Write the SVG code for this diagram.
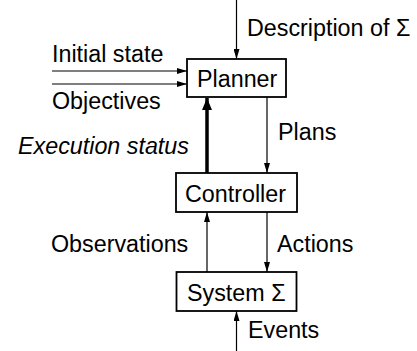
<svg xmlns="http://www.w3.org/2000/svg" width="417" height="351" viewBox="0 0 417 351">
<defs>
<marker id="ah" viewBox="0 0 10 6" refX="10" refY="3" markerWidth="10" markerHeight="6" markerUnits="userSpaceOnUse" orient="auto">
<path d="M0,0 L10,3 L0,6 Z" fill="#000"/>
</marker>
<marker id="ahb" viewBox="0 0 12 10" refX="12" refY="5" markerWidth="12" markerHeight="10" markerUnits="userSpaceOnUse" orient="auto">
<path d="M0,0 L12,5 L0,10 Z" fill="#000"/>
</marker>
</defs>
<style>
text{font-family:"Liberation Sans",Arial,sans-serif;font-size:23.3px;fill:#000}
.box{fill:#fff;stroke:#000;stroke-width:1.8}
.c{stroke:#000;stroke-width:1.2;fill:none;marker-end:url(#ah)}
.cb{stroke:#000;stroke-width:3.5;fill:none;marker-end:url(#ahb)}
</style>
<rect width="417" height="351" fill="#fff"/>
<g id="connectors">
<line class="c" x1="236.5" y1="0" x2="236.5" y2="59"/>
<line class="c" x1="52" y1="71" x2="187" y2="71"/>
<line class="c" x1="52" y1="84" x2="187" y2="84"/>
<line class="cb" x1="207" y1="173" x2="207" y2="98"/>
<line class="c" x1="267" y1="97" x2="267" y2="173"/>
<line class="c" x1="207" y1="272" x2="207" y2="212"/>
<line class="c" x1="267" y1="212" x2="267" y2="272"/>
<line class="c" x1="236.5" y1="351" x2="236.5" y2="311"/>
</g>
<g id="labels">
<text x="247" y="36">Description of Σ</text>
<text x="52" y="62">Initial state</text>
<text x="52" y="109">Objectives</text>
<text x="18" y="154" font-style="italic">Execution status</text>
<text x="278" y="140">Plans</text>
<text x="51" y="252">Observations</text>
<text x="277" y="252">Actions</text>
<text x="248" y="338">Events</text>
</g>
<g id="planner">
<rect class="box" x="187" y="59" width="99" height="38"/>
<text x="197" y="87">Planner</text>
</g>
<g id="controller">
<rect class="box" x="176" y="173" width="121" height="39"/>
<text x="185" y="202">Controller</text>
</g>
<g id="system">
<rect class="box" x="176.5" y="272" width="120" height="39"/>
<text x="187" y="301">System Σ</text>
</g>
</svg>
